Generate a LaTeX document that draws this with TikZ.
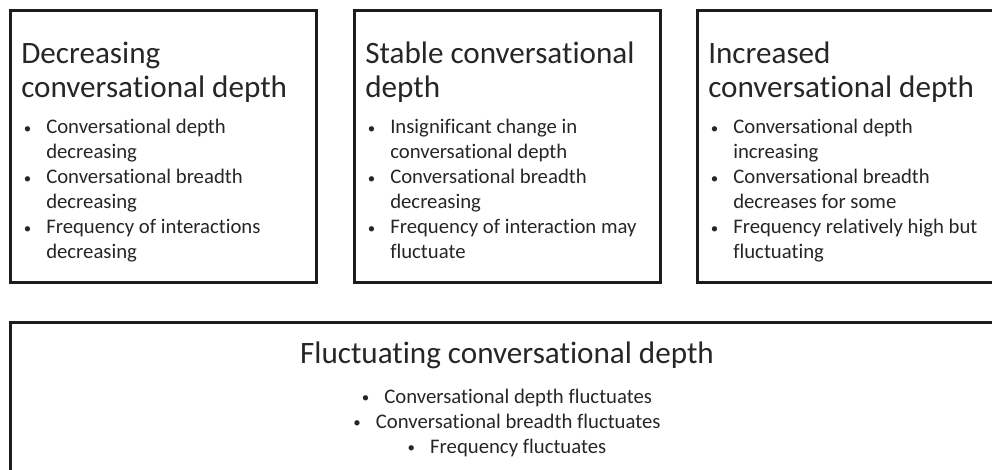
\documentclass[tikz,border=0pt]{standalone}
\usepackage{fontspec}
\setmainfont{Carlito}[Ligatures=NoCommon]
\usepackage{graphicx}
\usepackage{tikz}
\usetikzlibrary{positioning}

\newdimen\pxu \pxu=0.75pt
\definecolor{boxline}{RGB}{28,28,28}
\definecolor{bodytext}{RGB}{38,38,38}
\hyphenpenalty=10000
\exhyphenpenalty=10000
\newcommand{\stagedot}{\raisebox{0.6\pxu}{\scalebox{0.72}{\textbullet}}}
\newcommand{\stageitem}[1]{\hangindent=22.5\pxu\hangafter=1\makebox[22.5\pxu][l]{\stagedot}#1\par}
\newcommand{\centeritem}[1]{\makebox[22.5\pxu][l]{\stagedot}#1}

\begin{document}
\begin{tikzpicture}[x=0.75pt, y=-0.75pt]
\tikzstyle{stagebox}=[draw=boxline, line width=3\pxu, minimum width=306\pxu, minimum height=272\pxu, inner sep=0pt, outer sep=0pt]
\tikzstyle{stagetitle}=[inner sep=0pt, text width=295\pxu, align=flush left, text=bodytext, font=\fontsize{23.35}{25.3}\selectfont]
\tikzstyle{stagebody}=[inner sep=0pt, text width=282\pxu, align=flush left, text=bodytext, font=\fontsize{15.55}{18.75}\selectfont]
    \useasboundingbox (0,0) rectangle (992,470);
    \clip (0,0) rectangle (992,470);

    \node (decbox) [stagebox, anchor=north west] at (10,11) {};
    \node (stablebox) [stagebox, right=38\pxu of decbox] {};
    \node (incbox) [stagebox, right=37\pxu of stablebox] {};
    \node (fluctbox) [stagebox, minimum width=994\pxu, minimum height=200\pxu, below right=39\pxu and 0pt of decbox.south west] {};

    \node (dectitle) [stagetitle, anchor=base west] at ([shift={(11,53)}]decbox.north west) {Decreasing\\conversational depth};
    \node (stabletitle) [stagetitle, anchor=base west] at ([shift={(11,53)}]stablebox.north west) {Stable conversational\\depth};
    \node (inctitle) [stagetitle, anchor=base west] at ([shift={(11,53)}]incbox.north west) {Increased\\conversational depth};
    \node (fluctitle) [stagetitle, text width=, align=center, anchor=base] at ([shift={(0,41)}]fluctbox.north) {Fluctuating conversational depth};

    \node (decbody) [stagebody, anchor=base west] at ([shift={(13.5,123)}]decbox.north west) {%
        \stageitem{Conversational depth decreasing}
        \stageitem{Conversational breadth decreasing}
        \stageitem{Frequency of interactions decreasing}};
    \node (stablebody) [stagebody, anchor=base west] at ([shift={(13.5,123)}]stablebox.north west) {%
        \stageitem{Insignificant change in conversational depth}
        \stageitem{Conversational breadth decreasing}
        \stageitem{Frequency of interaction may fluctuate}};
    \node (incbody) [stagebody, anchor=base west] at ([shift={(13.5,123)}]incbox.north west) {%
        \stageitem{Conversational depth increasing}
        \stageitem{Conversational breadth decreases for some}
        \stageitem{Frequency relatively high but fluctuating}};
    \node (fluctbody) [stagebody, text width=500\pxu, align=flush center, anchor=base] at ([shift={(0,81)}]fluctbox.north) {%
        \centeritem{Conversational depth fluctuates}\\
        \centeritem{Conversational breadth fluctuates}\\
        \centeritem{Frequency fluctuates}};
\end{tikzpicture}
\end{document}
